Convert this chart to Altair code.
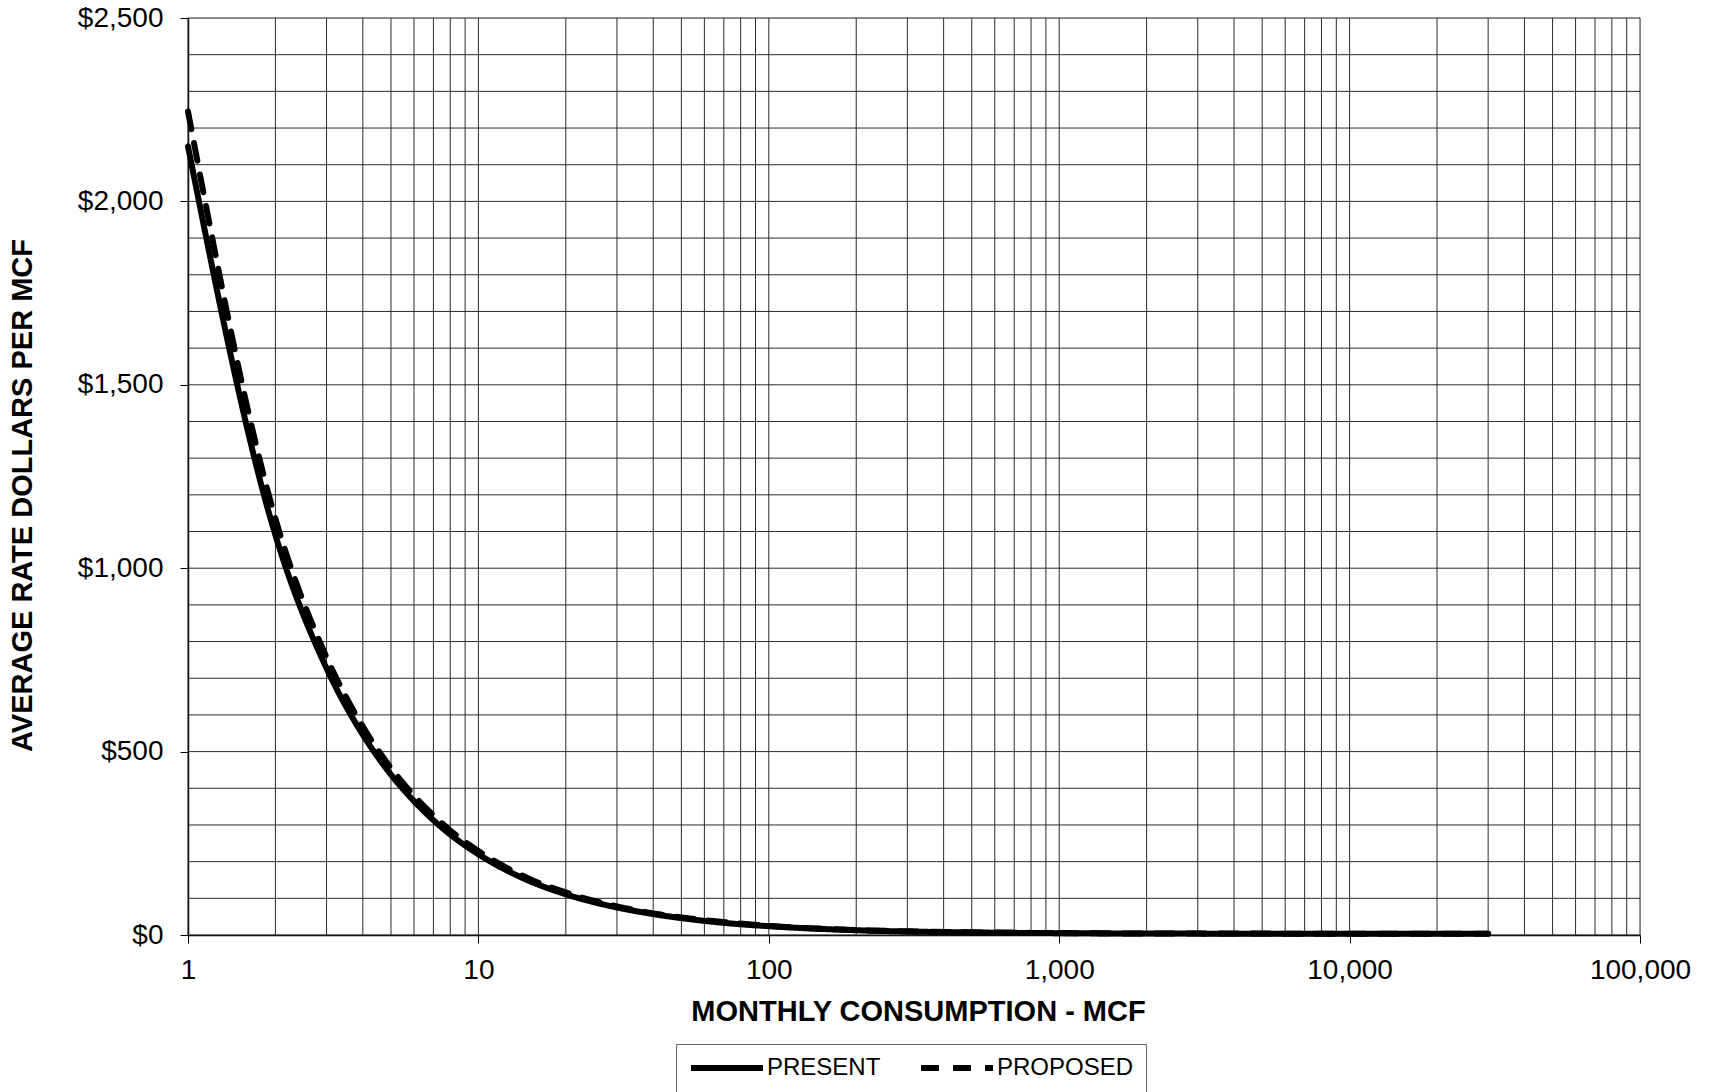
import altair as alt
import pandas as pd

# ---- data ----
mcf = [1, 2, 3, 4, 5, 6, 7, 8, 9, 10, 15, 20, 30, 40, 50, 75, 100, 200, 300,
       500, 1000, 2000, 5000, 10000, 30000]
present = [2150, 1090, 727, 546, 437, 365, 313, 274, 244, 220, 147, 111, 75,
           57, 46, 31, 24, 13, 9.5, 7, 5, 4, 3.6, 3.4, 3.3]
proposed = [2245, 1135, 757, 568, 455, 380, 326, 285, 254, 229, 153, 116, 78,
            59, 48, 33, 25, 13.5, 10, 7.3, 5.2, 4.2, 3.8, 3.5, 3.4]
series_names = ["PRESENT", "PROPOSED"]

x_ticks = [1, 10, 100, 1000, 10000, 100000]
y_ticks = [0, 500, 1000, 1500, 2000, 2500]
x_grid = [m * 10 ** e for e in range(5) for m in range(1, 10)] + [100000]
y_grid = list(range(0, 2501, 100))

df = pd.DataFrame({
    "mcf": mcf * 2,
    "rate": present + proposed,
    "series": [series_names[0]] * len(mcf) + [series_names[1]] * len(mcf),
})

FONT = "Liberation Sans"

xscale = alt.Scale(type="log", domain=[1, 100000], nice=False)
yscale = alt.Scale(domain=[0, 2500], nice=False, zero=False)

xaxis = alt.Axis(values=x_ticks, format=",.0f", grid=False, tickSize=8,
                 tickColor="black", domainColor="black", domainWidth=1.5,
                 labelFont=FONT, labelFontSize=28, labelColor="black",
                 labelPadding=13, labelFlush=False, labelOverlap=False,
                 title="MONTHLY CONSUMPTION - MCF", titleFont=FONT,
                 titleFontSize=29, titleFontWeight="bold", titleColor="black",
                 titleX=730, titleY=76, titleBaseline="middle",
                 titleAlign="center")
yaxis = alt.Axis(values=y_ticks, format="$,.0f", grid=False, tickSize=8,
                 tickColor="black", domainColor="black", domainWidth=1.5,
                 labelFont=FONT, labelFontSize=28, labelColor="black",
                 labelPadding=17, labelFlush=False, labelOverlap=False,
                 title="AVERAGE RATE DOLLARS PER MCF", titleFont=FONT,
                 titleFontSize=29, titleFontWeight="bold", titleColor="black",
                 titleX=-166, titleY=477, titleBaseline="middle",
                 titleAlign="center", titleAngle=270)

vgrid = alt.Chart(pd.DataFrame({"mcf": x_grid})).mark_rule(
    color="#2a2a2a", strokeWidth=1
).encode(x=alt.X("mcf:Q", scale=xscale, axis=xaxis))

hgrid = alt.Chart(pd.DataFrame({"rate": y_grid})).mark_rule(
    color="#2a2a2a", strokeWidth=1
).encode(y=alt.Y("rate:Q", scale=yscale, axis=yaxis))

lines = alt.Chart(df).mark_line(
    color="black", strokeWidth=6, strokeCap="round", strokeJoin="round",
    interpolate="monotone"
).encode(
    x=alt.X("mcf:Q", scale=xscale, axis=xaxis),
    y=alt.Y("rate:Q", scale=yscale, axis=yaxis),
    strokeDash=alt.StrokeDash(
        "series:N",
        scale=alt.Scale(domain=series_names, range=[[1, 0], [18, 14]]),
        legend=alt.Legend(
            title=None, orient="none", legendX=488, legendY=1026,
            direction="horizontal", symbolType="M-6,0H6", symbolSize=144,
            symbolOffset=27, symbolStrokeWidth=6, symbolStrokeColor="black",
            labelOffset=28, labelFont=FONT, labelFontSize=24,
            labelColor="black", columnPadding=28, padding=12,
            strokeColor="#666", fillColor="white",
        ),
    ),
    order=alt.Order("mcf:Q"),
)

chart = alt.layer(vgrid, hgrid, lines).properties(
    width=1452, height=917,
    padding={"left": 188, "top": 18, "right": 69, "bottom": 157},
    autosize=alt.AutoSizeParams(type="none"),
).configure_view(stroke=None).configure(font=FONT)

chart.save("out.html", embed_options={"renderer": "svg", "actions": False})
